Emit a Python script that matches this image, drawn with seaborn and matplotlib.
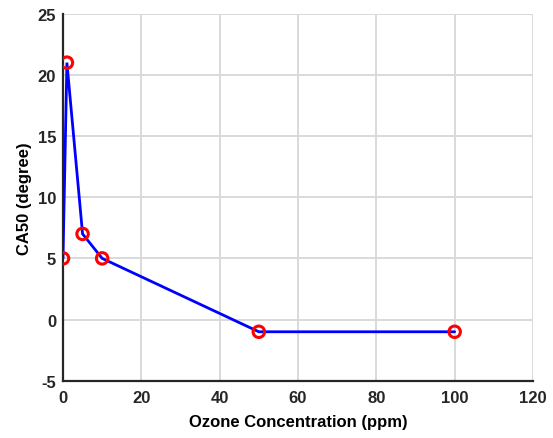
import matplotlib
matplotlib.use('Agg')
import matplotlib.pyplot as plt
import seaborn as sns
import pandas as pd

# values
ozone_ppm = [0, 1, 5, 10, 50, 100]
ca50_deg = [5, 21, 7, 5, -1, -1]

x_ticks = [0, 20, 40, 60, 80, 100, 120]
y_ticks = [-5, 0, 5, 10, 15, 20, 25]

df = pd.DataFrame({'ozone': ozone_ppm, 'ca50': ca50_deg})

sns.set_style('white')
plt.rcParams['font.family'] = ['Liberation Sans', 'DejaVu Sans']
plt.rcParams['font.weight'] = 'bold'
plt.rcParams['axes.unicode_minus'] = False

fig = plt.figure(figsize=(5.53, 4.39), dpi=100)
ax = fig.add_axes([0.1139, 0.1305, 0.8499, 0.836])

sns.lineplot(data=df, x='ozone', y='ca50', ax=ax, color='#0000ff',
             linewidth=2.0, sort=False, zorder=3,
             solid_joinstyle='miter')
sns.scatterplot(data=df, x='ozone', y='ca50', ax=ax, marker='o',
                s=68, facecolor='none', edgecolor='#ff0000',
                linewidth=2.2, zorder=4)

ax.set_xlim(0, 120)
ax.set_ylim(-5, 25)
ax.set_xticks(x_ticks)
ax.set_yticks(y_ticks)
ax.grid(True, color='#d9d9d9', linewidth=1.4)
ax.set_axisbelow(True)

for side in ['top', 'right']:
    ax.spines[side].set_visible(False)
for side in ['left', 'bottom']:
    ax.spines[side].set_color('#262626')
    ax.spines[side].set_linewidth(1.6)

ax.tick_params(direction='in', length=5, width=1.4, colors='#262626',
               labelsize=12)
ax.tick_params(axis='x', pad=7)
ax.tick_params(axis='y', pad=5)
for lab in ax.get_xticklabels() + ax.get_yticklabels():
    lab.set_fontweight('bold')

ax.set_xlabel('Ozone Concentration (ppm)', fontsize=12, fontweight='bold',
              color='black', labelpad=6)
ax.set_ylabel('CA50 (degree)', fontsize=12, fontweight='bold',
              color='black', labelpad=4)

fig.savefig('out.png', dpi=100)
